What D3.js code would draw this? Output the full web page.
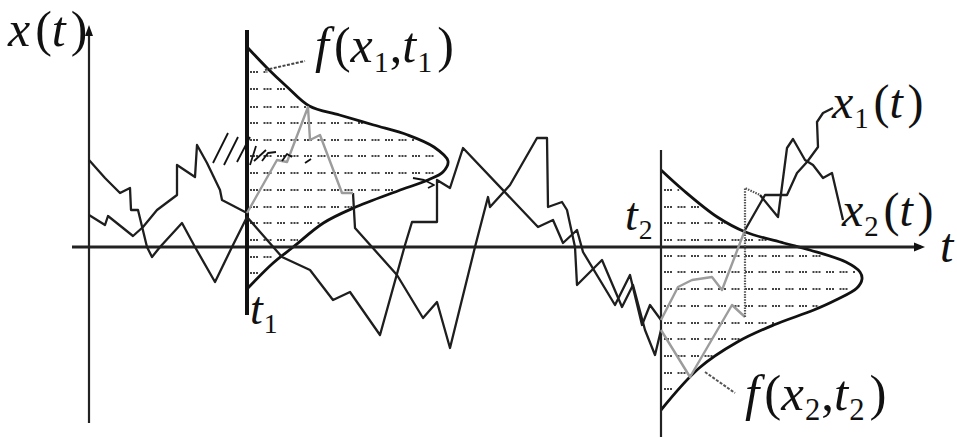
<!DOCTYPE html>
<html><head><meta charset="utf-8">
<script src="https://cdn.jsdelivr.net/npm/d3@7/dist/d3.min.js"></script>
<style>body{margin:0;background:#fff}svg{display:block}</style>
</head><body>
<svg id="chart" width="957" height="437"></svg>
<script>
// --- time axis and the two observation instants ---
const tAxis = [-1.7, 83.6];
const xAxis = [-17.6, 22.2];
const t1 = 15.8, t2 = 57.2;

// --- sample path A, split where its shade changes ---
const pathA_k1 = [[0,3.2],[1.6,2.2],[1.9,3.1],[4.4,1.1],[5.4,2.0],[6.8,3.7],[8.8,5.2],[8.8,8.2],[10.6,7.0],[10.8,10.2],[11.8,8.4],[13.1,5.7],[13.3,4.7],[15.8,3.4]];
const pathA_g1 = [[15.8,3.4],[17.1,5.7],[18.8,8.7],[19.8,8.5],[21.9,14.0],[22.1,10.7],[23.1,11.2],[25.3,5.4],[26.4,5.4]];
const pathA_k2 = [[26.4,5.4],[26.6,1.9],[30.8,-2.8],[33.4,-7.1],[34.8,-5.5],[36.1,-10.1],[38.6,0],[39.9,5.0],[40.1,4.0],[42.1,6.2],[44.8,10.9],[45.8,10.9],[45.9,4.0],[47.3,4.5],[47.8,3.7],[48.6,0],[48.8,-3.8],[51.3,-1.3],[53.3,-6.0],[54.4,-3.8],[55.6,-8.3],[56.6,-10.8],[57.2,-8.3]];
const pathA_g2 = [[57.2,-8.3],[60.1,-13.0],[64.3,-5.8],[65.6,-7.0]];
const pathA_v  = [[65.6,-7.0],[65.6,5.9],[67.1,5.2]];
const pathA_k3 = [[67.1,5.2],[68.9,3.0],[69.8,9.9],[70.4,10.8],[71.6,8.7],[72.4,8.2],[73.4,6.9],[74.3,7.4],[75.4,2.7]];

// --- sample path B ---
const pathB_k1 = [[0,8.7],[1.6,6.9],[3.1,5.4],[4.1,5.9],[4.2,3.7],[4.9,3.7],[5.8,0],[6.3,-1.0],[7.1,0],[9.3,2.4],[10.6,0],[12.6,-3.5],[14.3,0],[15.8,3.0],[19.3,-1.0],[22.1,-2.3],[24.4,-5.3],[26.1,-4.5],[29.1,-8.8],[31.6,0.2],[32.3,2.5],[34.8,2.5],[34.8,6.7],[36.1,5.9],[37.4,9.9],[44.9,2.0],[46.4,2.7],[47.4,0.4],[48.8,1.7],[49.4,-0.5],[52.6,-5.8],[54.1,-2.8],[55.3,-7.8],[56.1,-5.8],[57.2,-7.3]];
const pathB_g1 = [[57.2,-7.3],[58.9,-4.0],[60.3,-3.3],[62.3,-3.0],[63.3,-4.3],[65.6,1.7]];
const pathB_k2 = [[65.6,1.7],[67.6,5.2],[69.8,5.2],[70.8,7.4],[71.8,8.5],[72.9,10.0],[72.8,12.5],[73.4,13.4],[74.4,13.9]];

// --- densities f(x,t) at t1 and t2: [x, relative density] ---
const dens1 = [[19.9,0.005],[17.9,0.10],[16.0,0.20],[14.1,0.31],[13.2,0.46],[12.2,0.63],[11.2,0.80],[10.0,0.93],[8.6,1.0],[7.5,0.975],[6.7,0.90],[5.6,0.75],[3.9,0.53],[2.4,0.38],[0.0,0.23],[-1.6,0.13],[-4.1,0.005]];
const dens2 = [[7.7,0.0],[5.7,0.11],[3.0,0.28],[1.5,0.42],[0.4,0.61],[-0.3,0.74],[-1.5,0.92],[-2.5,0.99],[-3.2,1.0],[-4.1,0.975],[-5.3,0.87],[-6.3,0.76],[-7.8,0.56],[-9.5,0.38],[-12.1,0.19],[-16.3,0.0]];
const hatch1 = [17.5,15.8,14.0,12.4,10.7,9.1,7.4,5.7,4.0,2.4,0.7,-1.0,-2.6];
const hatch2 = [5.7,4.0,2.4,0.7,-0.9,-2.5,-4.2,-5.9,-7.6,-9.2,-10.9,-12.6,-14.2];

// --- leader lines for the density labels ---
const lead1 = [[17.6,17.7],[21.6,18.6]];
const lead2 = [[61.6,-12.5],[64.6,-14.6]];

// --- pen strokes over the first density ---
const scribbles = [
  [[12.4,8.4],[13.9,11.4]],
  [[13.5,8.2],[14.9,11.0]],
  [[14.8,8.5],[16.1,11.0]],
  [[16.1,8.2],[16.7,10.1]],
  [[16.5,8.6],[17.7,9.7]],
  [[17.3,8.6],[17.9,9.4],[18.7,9.5]],
  [[19.3,8.6],[19.8,9.3],[20.3,9.0]],
  [[21.6,8.4],[22.2,8.8]],
  [[32.4,6.9],[33.5,6.7],[34.5,6.2],[33.9,5.9]]
];

const svg = d3.select("#chart");
const T = d3.scaleLinear().domain([0, 83.6]).range([89, 925]);
const X = d3.scaleLinear().domain([0, 22.2]).range([247, 25]);
const W = d3.scaleLinear().domain([0, 1]).range([0, 201]);

const line = d3.line().x(d => T(d[0])).y(d => X(d[1]));

// densities with hatching
function density(base, dens, hatch) {
  const g = svg.append("g");
  const asc = dens.slice().sort((a, b) => a[0] - b[0]);
  const fAt = v => {
    for (let i = 0; i < asc.length - 1; i++) {
      if (v >= asc[i][0] && v <= asc[i + 1][0]) {
        const k = (v - asc[i][0]) / (asc[i + 1][0] - asc[i][0]);
        return asc[i][1] + k * (asc[i + 1][1] - asc[i][1]);
      }
    }
    return 0;
  };
  g.selectAll("line.h").data(hatch).join("line")
    .attr("x1", T(base) + 3).attr("x2", d => T(base) + W(fAt(d)) - 4)
    .attr("y1", d => X(d)).attr("y2", d => X(d))
    .attr("stroke", "#444").attr("stroke-width", 1.9)
    .attr("stroke-dasharray", "2,1,2,1,2,5.5");
  g.append("path").datum(dens)
    .attr("d", d3.line().curve(d3.curveCatmullRom).x(d => T(base) + W(d[1])).y(d => X(d[0])))
    .attr("fill", "none").attr("stroke", "#111").attr("stroke-width", 2.8);
}
density(t1, dens1, hatch1);
density(t2, dens2, hatch2);

// axes
svg.append("line").attr("x1", T(0)).attr("x2", T(0)).attr("y1", X(xAxis[0])).attr("y2", X(xAxis[1]) + 6)
  .attr("stroke", "#222").attr("stroke-width", 2.2);
svg.append("path").attr("d", `M${T(0)-4},${X(xAxis[1])+11}L${T(0)},${X(xAxis[1])}L${T(0)+4},${X(xAxis[1])+11}Z`).attr("fill", "#111");
svg.append("line").attr("x1", T(tAxis[0])).attr("x2", T(tAxis[1]) - 4).attr("y1", X(0)).attr("y2", X(0))
  .attr("stroke", "#222").attr("stroke-width", 3.2);
svg.append("path").attr("d", `M${T(tAxis[1])-11},${X(0)-4.5}L${T(tAxis[1])},${X(0)}L${T(tAxis[1])-11},${X(0)+4.5}Z`).attr("fill", "#111");

// observation lines
svg.append("line").attr("x1", T(t1)).attr("x2", T(t1)).attr("y1", X(21.7)).attr("y2", X(-6.8))
  .attr("stroke", "#111").attr("stroke-width", 4);
svg.append("line").attr("x1", T(t2)).attr("x2", T(t2)).attr("y1", X(9.7)).attr("y2", X(-19))
  .attr("stroke", "#222").attr("stroke-width", 2.2);

// sample paths
const draw = (pts, color, w, dash) => svg.append("path").datum(pts).attr("d", line)
  .attr("fill", "none").attr("stroke", color).attr("stroke-width", w)
  .attr("stroke-linejoin", "round").attr("stroke-dasharray", dash || null);
[pathA_k1, pathA_k2, pathA_k3, pathB_k1, pathB_k2].forEach(p => draw(p, "#1e1e1e", 2.3));
[pathA_g1, pathA_g2, pathB_g1].forEach(p => draw(p, "#9c9c9c", 2.4));
draw(pathA_v, "#555", 2.2, "1.5,1.2");
draw(lead1, "#444", 2, "3,1.5");
draw(lead2, "#555", 2, "3,1.5");
scribbles.forEach(p => draw(p, "#111", 1.8));

// math labels set in a Times-style serif
function math(x, y, size, tokens) {
  const t = svg.append("text").attr("x", x).attr("y", y)
    .attr("font-family", "Liberation Serif")
    .attr("font-size", size).attr("fill", "#111");
  let sub = false;
  tokens.forEach(([s, kind]) => {
    const ts = t.append("tspan").text(s);
    if (kind === "s") {
      ts.attr("font-size", size * 0.6).attr("dy", size * 0.2).attr("dx", size * 0.02);
      sub = true;
    } else {
      if (sub) { ts.attr("dy", -size * 0.2); sub = false; }
      if (kind === "i") ts.attr("font-style", "italic");
      if (kind === "p") ts.attr("dx", size * 0.1);
      if (kind === "c") ts.attr("dx", size * 0.02);
    }
  });
}
math(8, 46, 50, [["x","i"],["(","p"],["t","i"],[")","p"]]);
math(315, 62, 50, [["f","i"],["(","p"],["x","i"],["1","s"],[",","c"],["t","i"],["1","s"],[")","p"]]);
math(832, 118, 48, [["x","i"],["1","s"],["(","p"],["t","i"],[")","p"]]);
math(842, 226, 48, [["x","i"],["2","s"],["(","p"],["t","i"],[")","p"]]);
math(940, 262, 48, [["t","i"]]);
math(250, 324, 46, [["t","i"],["1","s"]]);
math(625, 230, 46, [["t","i"],["2","s"]]);
math(745, 410, 51, [["f","i"],["(","p"],["x","i"],["2","s"],[",","c"],["t","i"],["2","s"],[")","p"]]);
</script>
</body></html>
